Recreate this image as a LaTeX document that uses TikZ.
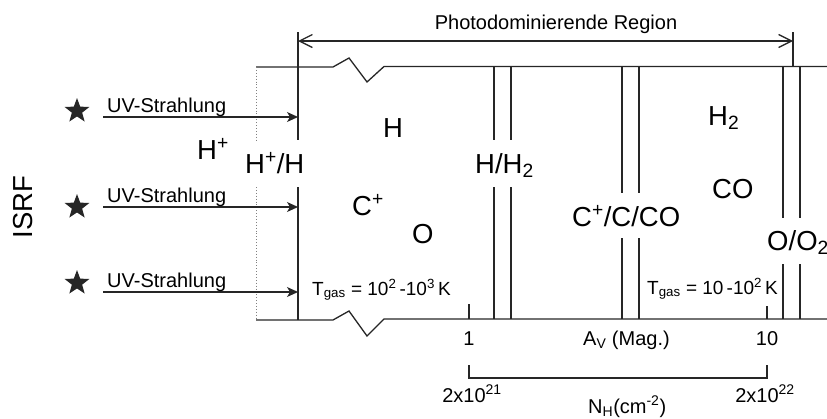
\documentclass[tikz,border=0pt]{standalone}
\usepackage{fontspec}
\setmainfont{Liberation Sans}
\usetikzlibrary{arrows.meta,shapes.geometric}
\begin{document}
\begin{tikzpicture}[x=1pt,y=-1pt,
  ln/.style={line width=1.3pt, black!85},
  dotln/.style={dotted, gray, line width=0.9pt},
  small/.style={font=\fontsize{20}{23}\selectfont, inner sep=0, anchor=base west},
  tsm/.style={font=\fontsize{19}{22}\selectfont, inner sep=0, anchor=base west},
  big/.style={font=\fontsize{27.5}{32}\selectfont, inner sep=0, anchor=base west},
  starnode/.style={star, star points=5, star point ratio=2.4, fill=black!85, inner sep=0, minimum size=26pt},
  uv/.style={line width=1.3pt, black!85, -{Stealth[length=11pt,width=10pt,inset=3pt]}},
  barb/.style={line width=1.3pt, black!85, {Straight Barb[length=13pt,width=13pt]}-{Straight Barb[length=13pt,width=13pt]}}]
\useasboundingbox (0,0) rectangle (827,418);

% main frame lines
\coordinate (tl) at (256,67);
\coordinate (bl) at (256,320);
\draw[ln] (tl) -- (333,67) -- (349,58) -- (367,82) -- (384,66.5) -- (827,66.5);
\draw[ln] (bl) -- (333,320) -- (349,311) -- (367,336) -- (384,319) -- (827,319);

% dotted boundary
\draw[dotln] (256,67) -- (256,140) (256,187) -- (256,320);
% ionisation front
\draw[ln] (298,32) -- (298,140) (298,187) -- (298,320);
% H/H2
\draw[ln] (494,66.5) -- (494,140) (494,187) -- (494,319);
\draw[ln] (511,66.5) -- (511,140) (511,187) -- (511,319);
% C+/C/CO
\draw[ln] (622,66.5) -- (622,193) (622,238) -- (622,319);
\draw[ln] (639,66.5) -- (639,193) (639,238) -- (639,319);
% O/O2
\draw[ln] (783,66.5) -- (783,218) (783,264) -- (783,319);
\draw[ln] (800,66.5) -- (800,218) (800,264) -- (800,319);

% photodominated region arrow
\coordinate (pl) at (298,41);
\coordinate (pr) at (793,41);
\draw[ln] (793,32) -- (793,66.5);
\draw[barb] (pl) -- (pr);
\node[small, anchor=base] (pdr) at (556,29) {Photodominierende Region};

% UV arrows
\coordinate (a1) at (103,117); \coordinate (b1) at (298,117);
\coordinate (a2) at (103,207); \coordinate (b2) at (298,207);
\coordinate (a3) at (103,292); \coordinate (b3) at (298,292);
\draw[uv] (a1) -- (b1);
\draw[uv] (a2) -- (b2);
\draw[uv] (a3) -- (b3);
\node[small] (uv1) at (107,112) {UV-Strahlung};
\node[small] (uv2) at (107,202) {UV-Strahlung};
\node[small] (uv3) at (107,287) {UV-Strahlung};
\node[starnode] (s1) at (77,111) {};
\node[starnode] (s2) at (77,207) {};
\node[starnode] (s3) at (77,283) {};
\node[big, anchor=center, rotate=90] (isrf) at (23,207) {ISRF};

% species labels
\node[big] (hp) at (197,159) {H\textsuperscript{+}};
\node[big] (hph) at (245,173) {H\textsuperscript{+}/H};
\node[big] (h) at (383,137) {H};
\node[big] (cp) at (352,215) {C\textsuperscript{+}};
\node[big] (o) at (412,243) {O};
\node[big] (hh2) at (475,173) {H/H\textsubscript{2}};
\node[big] (ccco) at (572,226) {C\textsuperscript{+}/C/CO};
\node[big] (h2) at (708,125) {H\textsubscript{2}};
\node[big] (co) at (712,198) {CO};
\node[big] (oo2) at (767,250) {O/O\textsubscript{2}};

% temperatures
\node[tsm] (t1) at (312,295) {T\textsubscript{gas} = 10\textsuperscript{2}\,-10\textsuperscript{3}\,K};
\node[tsm] (t2) at (647,294) {T\textsubscript{gas} = 10\,-10\textsuperscript{2}\,K};

% axis
\coordinate (k1a) at (469,304); \coordinate (k1b) at (469,319);
\coordinate (k2a) at (767,306); \coordinate (k2b) at (767,319);
\draw[ln] (k1a) -- (k1b);
\draw[ln] (k2a) -- (k2b);
\node[small, anchor=base] (one) at (469,345) {1};
\node[small, anchor=base] (ten) at (767,345) {10};
\node[small] (av) at (583,345) {A\textsubscript{V} (Mag.)};
\coordinate (bra) at (469,365); \coordinate (brb) at (767,365);
\draw[ln] (bra) -- (469,378) -- (767,378) -- (brb);
\node[small, anchor=base] (n1) at (472,402) {2x10\textsuperscript{21}};
\node[small, anchor=base] (n2) at (765,402) {2x10\textsuperscript{22}};
\node[small] (nh) at (588,413) {N\textsubscript{H}(cm\textsuperscript{-2})};
\end{tikzpicture}
\end{document}
